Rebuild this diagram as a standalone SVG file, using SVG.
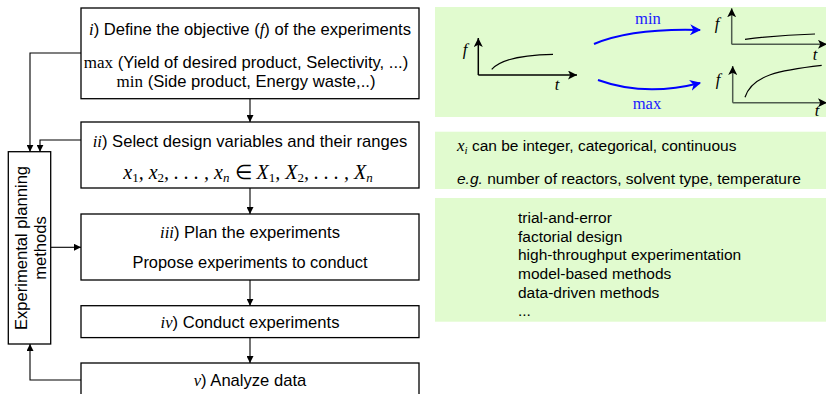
<svg xmlns="http://www.w3.org/2000/svg" width="826" height="394" viewBox="0 0 826 394">
<style>
.box{fill:#fff;stroke:#000;stroke-width:1.3}
.t{font-family:"Liberation Sans",Arial,sans-serif;font-size:16.6px;fill:#000}
.s{font-size:15.5px}
.m{font-family:"Liberation Serif","Times New Roman",serif;font-style:italic}
.r{font-family:"Liberation Serif","Times New Roman",serif}
.panel{fill:#e1fbcf}
.conn{fill:none;stroke:#000;stroke-width:1.1}
.ax{fill:none;stroke:#000;stroke-width:1.5}
.ax2{fill:none;stroke:#4f5c4f;stroke-width:1.5}
.cv{fill:none;stroke:#000;stroke-width:1.2}
.blue{fill:none;stroke:#0000ff;stroke-width:2}
</style>
<defs>
<marker id="ah" viewBox="0 0 10 10" refX="10" refY="5" markerWidth="7" markerHeight="7" markerUnits="userSpaceOnUse" orient="auto">
<path d="M0,0 L10,5 L0,10 z" fill="#000"/>
</marker>
<marker id="ax" viewBox="0 0 10 10" refX="10" refY="5" markerWidth="9" markerHeight="9" markerUnits="userSpaceOnUse" orient="auto">
<path d="M0,0 L10,5 L0,10 L2.5,5 z" fill="#000"/>
</marker>
<marker id="bh" viewBox="0 0 10 10" refX="9" refY="5" markerWidth="11" markerHeight="11" markerUnits="userSpaceOnUse" orient="auto">
<path d="M0,0 L10,5 L0,10 L3,5 z" fill="#0000ff"/>
</marker>
</defs>

<!-- right panels -->
<g id="panel-objective">
<rect class="panel" x="435" y="7" width="391" height="110"/>
<g id="graph1">
<path class="ax" d="M478.3,75 V38" marker-end="url(#ax)"/>
<path class="ax" d="M478.3,75 H577" marker-end="url(#ax)"/>
<path class="cv" d="M491.7,69.3 Q505,55 553,54.3"/>
<text class="t m" x="465" y="55" text-anchor="middle">f</text>
<text class="t m" x="557" y="90" text-anchor="middle">t</text>
</g>
<g id="graph2">
<path class="ax2" d="M731.7,44.3 V8.3" marker-end="url(#ax)"/>
<path class="ax2" d="M731.7,44.3 H827" marker-end="url(#ax)"/>
<path class="cv" d="M745,39.3 Q780,35 815,34"/>
<text class="t m" x="717" y="29" text-anchor="middle">f</text>
<text class="t m" x="815" y="60" text-anchor="middle">t</text>
</g>
<g id="graph3">
<path class="ax2" d="M732.7,102.7 V66" marker-end="url(#ax)"/>
<path class="ax2" d="M732.7,102.7 H827" marker-end="url(#ax)"/>
<path class="cv" d="M745,97.3 C752,75 780,70 821.7,65.3"/>
<text class="t m" x="718" y="85" text-anchor="middle">f</text>
<text class="t m" x="817" y="116" text-anchor="middle">t</text>
</g>
<g id="blue-arrows">
<path class="blue" d="M594,44 Q632,28 700,30" marker-end="url(#bh)"/>
<path class="blue" d="M598,80 Q645,97 700,83" marker-end="url(#bh)"/>
<text class="t r" x="648" y="24" text-anchor="middle" style="fill:#1a1aff">min</text>
<text class="t r" x="647" y="109" text-anchor="middle" style="fill:#1a1aff">max</text>
</g>
</g>

<g id="panel-variables">
<rect class="panel" x="435" y="131.7" width="391" height="57.3"/>
<text class="t s" x="457" y="151"><tspan class="m" font-size="17">x</tspan><tspan class="m" font-size="11" dy="3">i</tspan><tspan dy="-3"> can be integer, categorical, continuous</tspan></text>
<text class="t s" x="457" y="184"><tspan font-style="italic">e.g.</tspan> number of reactors, solvent type, temperature</text>
</g>

<g id="panel-methods">
<rect class="panel" x="435" y="198" width="391" height="123.7"/>
<text class="t s" x="518" y="223">trial-and-error</text>
<text class="t s" x="518" y="241.5">factorial design</text>
<text class="t s" x="518" y="260">high-throughput experimentation</text>
<text class="t s" x="518" y="279">model-based methods</text>
<text class="t s" x="518" y="297.5">data-driven methods</text>
<text class="t s" x="518" y="316">...</text>
</g>

<!-- connectors -->
<g id="connectors">
<path class="conn" d="M81,53 H30 V151.7" marker-end="url(#ah)"/>
<path class="conn" d="M81,140 H40 V151.7" marker-end="url(#ah)"/>
<path class="conn" d="M50.7,247.3 H81" marker-end="url(#ah)"/>
<path class="conn" d="M81,380 H30 V344" marker-end="url(#ah)"/>
<path class="conn" d="M250,98.7 V122" marker-end="url(#ah)"/>
<path class="conn" d="M250,188 V214" marker-end="url(#ah)"/>
<path class="conn" d="M250,280 V305.7" marker-end="url(#ah)"/>
<path class="conn" d="M250,337.6 V363" marker-end="url(#ah)"/>
</g>

<!-- nodes -->
<g id="node-i">
<rect class="box" x="81" y="8" width="338" height="90.7"/>
<text class="t" x="250" y="35" text-anchor="middle"><tspan class="m">i</tspan>) Define the objective (<tspan class="m">f</tspan>) of the experiments</text>
<text class="t" x="246" y="68" text-anchor="middle"><tspan class="r" font-size="17">max</tspan> (Yield of desired product, Selectivity, ...)</text>
<text class="t" x="246" y="87" text-anchor="middle"><tspan class="r" font-size="17">min</tspan> (Side product, Energy waste,..)</text>
</g>

<g id="node-ii">
<rect class="box" x="81" y="122" width="338" height="66"/>
<text class="t" x="250" y="147" text-anchor="middle"><tspan class="m">ii</tspan>) Select design variables and their ranges</text>
<text class="t m" x="248" y="179" text-anchor="middle" style="font-size:20px">x<tspan font-size="13" dy="3" font-style="normal">1</tspan><tspan dy="-3">, x</tspan><tspan font-size="13" dy="3" font-style="normal">2</tspan><tspan dy="-3">, . . . , x</tspan><tspan font-size="13" dy="3">n</tspan><tspan dy="-3" font-style="normal"> ∈ </tspan>X<tspan font-size="13" dy="3" font-style="normal">1</tspan><tspan dy="-3">, X</tspan><tspan font-size="13" dy="3" font-style="normal">2</tspan><tspan dy="-3">, . . . , X</tspan><tspan font-size="13" dy="3">n</tspan></text>
</g>

<g id="node-iii">
<rect class="box" x="81" y="214" width="338" height="66"/>
<text class="t" x="250" y="238" text-anchor="middle"><tspan class="m">iii</tspan>) Plan the experiments</text>
<text class="t" x="250" y="268" text-anchor="middle" style="font-size:16.4px">Propose experiments to conduct</text>
</g>

<g id="node-iv">
<rect class="box" x="81" y="305.7" width="338" height="31.9"/>
<text class="t" x="250" y="328" text-anchor="middle"><tspan class="m">iv</tspan>) Conduct experiments</text>
</g>

<g id="node-v">
<rect class="box" x="81" y="363" width="338" height="40"/>
<text class="t" x="250" y="386" text-anchor="middle"><tspan class="m">v</tspan>) Analyze data</text>
</g>

<g id="node-methods">
<rect class="box" x="8.3" y="151.7" width="42.4" height="192.3"/>
<text class="t" transform="translate(27,248) rotate(-90)" text-anchor="middle">Experimental planning</text>
<text class="t" transform="translate(46,248) rotate(-90)" text-anchor="middle">methods</text>
</g>
</svg>
